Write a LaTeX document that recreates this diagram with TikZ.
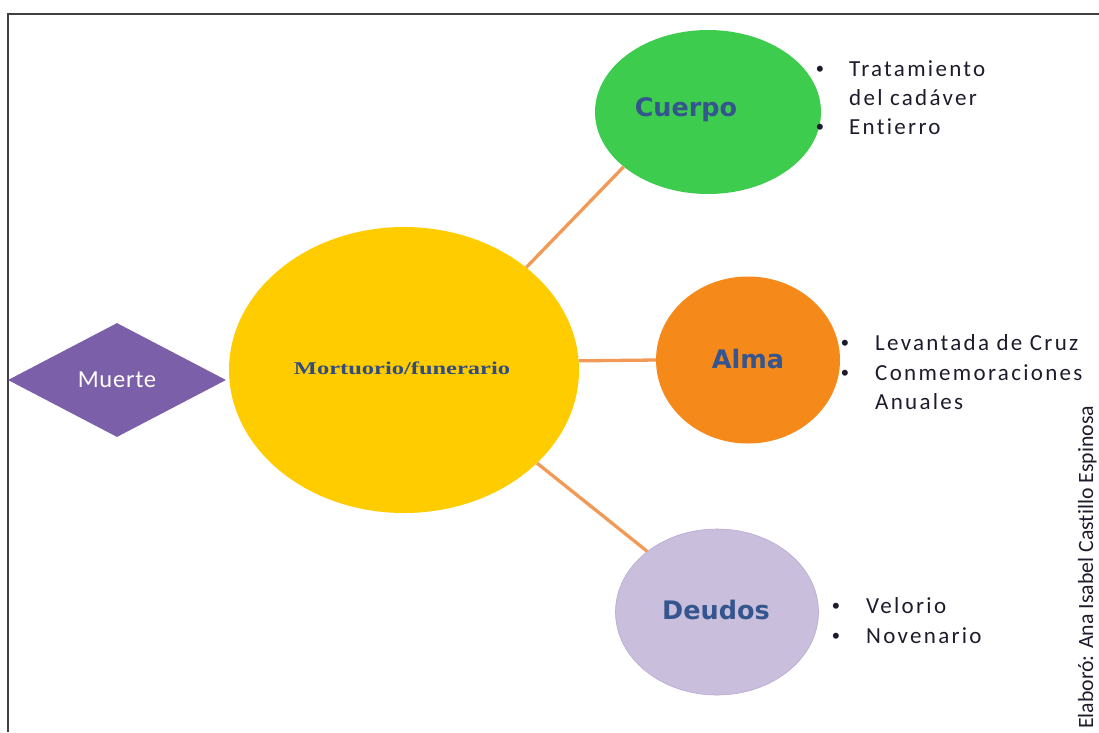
\documentclass[tikz,border=0pt]{standalone}
\usepackage{fontspec}
\setmainfont{Liberation Serif}
\newfontfamily\calib[LetterSpace=10,Ligatures=NoCommon]{Carlito}
\newfontfamily\calibplain[Ligatures=NoCommon]{Carlito}
\newfontfamily\calibmid[LetterSpace=3,Ligatures=NoCommon]{Carlito}
\newfontfamily\dvbold{DejaVu Sans Bold}
\newfontfamily\timesw[FakeStretch=1.36]{Liberation Serif Bold}
\newfontfamily\bulletf{Liberation Sans}
\usetikzlibrary{shapes.geometric}
\definecolor{gold}{HTML}{FFCC00}
\definecolor{grn}{HTML}{3ECC4E}
\definecolor{org}{HTML}{F5891A}
\definecolor{lav}{HTML}{C9BEDC}
\definecolor{purp}{HTML}{7B5FA9}
\definecolor{conn}{HTML}{F29A55}
\definecolor{lbl}{HTML}{35558F}
\definecolor{txt}{HTML}{1C1C2C}
\tikzset{
  blob/.style={ellipse, inner sep=0pt},
  lbltext/.style={text=lbl, font=\dvbold\fontsize{25.5}{28}\selectfont, inner sep=0pt},
  link/.style={conn, line width=3.3pt},
  item/.style={anchor=base west, text=txt, font=\calib\fontsize{23}{26}\selectfont, inner sep=0pt},
  dot/.style={anchor=base, text=txt, font=\bulletf\fontsize{22}{24}\selectfont, inner sep=0pt}
}
\begin{document}
\begin{tikzpicture}[x=1pt,y=-1pt]
\useasboundingbox (0,0) rectangle (1099,732);
\draw[line width=1.5pt, black!75] (8,732) -- (8,14) -- (1099,14);
% nodes
\node[blob, fill=gold, minimum width=350pt, minimum height=286pt] (mort) at (404,370) {};
\node[text=lbl!90!black, font=\timesw\fontsize{18}{20}\selectfont, inner sep=0pt] (mortl) at (402,368) {Mortuorio/funerario};
\node[diamond, fill=purp, minimum width=218pt, minimum height=114pt, inner sep=0pt, aspect=1.9] (muerte) at (117,380) {};
\node[text=white, font=\calibmid\fontsize{24.5}{26}\selectfont, inner sep=0pt] (muertel) at (117,380) {Muerte};
\node[blob, fill=grn, minimum width=226pt, minimum height=164pt] (cuerpo) at (708,112) {};
\node[lbltext] (cuerpol) at (686,110) {Cuerpo};
\node[blob, fill=org, minimum width=184pt, minimum height=167pt] (alma) at (748,360) {};
\node[lbltext] (almal) at (748,359) {Alma};
\node[blob, fill=lav, draw=lav!80!purp, line width=0.6pt, minimum width=203pt, minimum height=166pt] (deudos) at (717,612) {};
\node[lbltext] (deudosl) at (716,610) {Deudos};
% connectors
\draw[link] (mort.40.4) -- (cuerpo.213.4);
\draw[link] (mort.3.3) -- (alma.west);
\draw[link] (mort.-35.2) -- (deudos.139.4);
% lists
\node[dot] (b1) at (820,76) {•};
\node[item] (t1) at (849,76) {Tratamiento};
\node[item] (t1b) at (849,105) {del cadáver};
\node[dot] (b2) at (820,134) {•};
\node[item] (t2) at (849,134) {Entierro};
\node[dot] (b3) at (845,350) {•};
\node[item] (t3) at (875,350) {Levantada de Cruz};
\node[dot] (b4) at (845,380) {•};
\node[item] (t4) at (875,380) {Conmemoraciones};
\node[item] (t4b) at (875,409) {Anuales};
\node[dot] (b5) at (836,613) {•};
\node[item] (t5) at (866,613) {Velorio};
\node[dot] (b6) at (836,643) {•};
\node[item] (t6) at (866,643) {Novenario};
% credit
\node[rotate=90, anchor=base west, text=txt, font=\calibplain\fontsize{21.8}{23}\selectfont, inner sep=0pt] (credit) at (1093,729) {Elaboró: Ana Isabel Castillo Espinosa};
\end{tikzpicture}
\end{document}
